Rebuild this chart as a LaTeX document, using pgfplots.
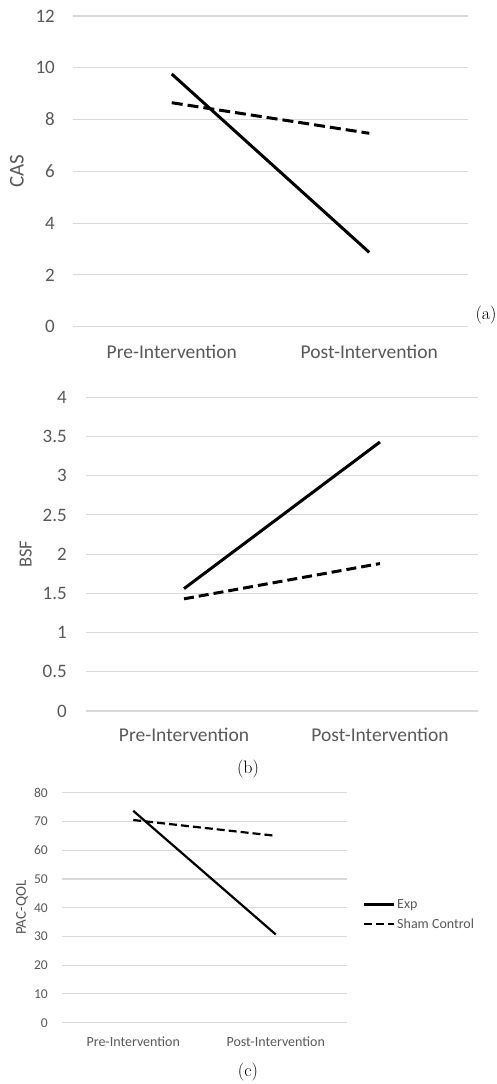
\documentclass[border=0pt]{standalone}
\usepackage{fontspec}
\setsansfont{Carlito}
\usepackage{pgfplots}
\pgfplotsset{compat=1.18}
\definecolor{tickgray}{HTML}{595959}
\definecolor{gridgray}{HTML}{D9D9D9}
\pgfplotsset{
  panel/.style={
    scale only axis,
    anchor=south west,
    xmin=-0.5, xmax=1.5,
    xtick={0,1},
    xticklabels={Pre-Intervention,Post-Intervention},
    axis line style={draw=none},
    major tick length=0pt,
    tick style={draw=none},
    ymajorgrids,
    grid style={gridgray, line width=1.1pt},
    tick label style={color=tickgray, inner sep=0pt},
    label style={color=tickgray},
    /pgf/number format/assume math mode=true,
    clip=false,
  },
}
\begin{document}
\begin{tikzpicture}[x=1pt,y=1pt]
\useasboundingbox (0,0) rectangle (496,1084);
% (a) CAS
\begin{axis}[panel,
  at={(73pt,757.3pt)},
  width=395pt, height=310.7pt,
  ymin=0, ymax=12, ytick={0,2,4,6,8,10,12},
  yticklabel style={anchor=east, xshift=-18pt, font=\sffamily\fontsize{19}{21}\selectfont},
  xticklabel style={anchor=center, yshift=-25pt, font=\sffamily\fontsize{19.5}{21}\selectfont},
  every axis y label/.style={at={(axis description cs:-0.142,0.5)}, rotate=90, anchor=center, color=tickgray, font=\sffamily\fontsize{21}{23}\selectfont},
  ylabel={CAS},
]
\addplot[black, line width=3pt] coordinates {(0,9.76) (1,2.87)};
\addplot[black, line width=3pt, dash pattern=on 11pt off 5pt] coordinates {(0,8.65) (1,7.47)};
\end{axis}
% (b) BSF
\begin{axis}[panel,
  at={(86pt,373pt)},
  width=392pt, height=313.7pt,
  ymin=0, ymax=4, ytick={0,0.5,1,1.5,2,2.5,3,3.5,4},
  yticklabel style={anchor=east, xshift=-19pt, font=\sffamily\fontsize{19}{21}\selectfont},
  xticklabel style={anchor=center, yshift=-24pt, font=\sffamily\fontsize{19.5}{21}\selectfont},
  every axis y label/.style={at={(axis description cs:-0.154,0.5)}, rotate=90, anchor=center, color=tickgray, font=\sffamily\fontsize{18.5}{20}\selectfont},
  ylabel={BSF},
]
\addplot[black, line width=3pt] coordinates {(0,1.56) (1,3.43)};
\addplot[black, line width=3pt, dash pattern=on 10pt off 5pt] coordinates {(0,1.43) (1,1.88)};
\end{axis}
% (c) PAC-QOL
\begin{axis}[panel,
  at={(62pt,61.3pt)},
  width=285pt, height=230pt,
  ymin=0, ymax=80, ytick={0,10,20,30,40,50,60,70,80},
  yticklabel style={anchor=east, xshift=-14pt, font=\sffamily\fontsize{13.5}{15}\selectfont},
  xticklabel style={anchor=center, yshift=-19pt, font=\sffamily\fontsize{14}{16}\selectfont},
  every axis y label/.style={at={(axis description cs:-0.14,0.5)}, rotate=90, anchor=center, color=tickgray, font=\sffamily\fontsize{15}{17}\selectfont},
  ylabel={PAC-QOL},
  legend style={at={(1.045,0.47)}, anchor=west, draw=none, fill=none,
    font=\sffamily\fontsize{14}{16}\selectfont, text=tickgray, row sep=5pt,
    nodes={inner sep=2pt}},
  legend cell align=left,
  legend image code/.code={\draw[#1] (0pt,0pt) -- (30pt,0pt);},
]
\addplot[black, line width=2.2pt] coordinates {(0,73.7) (1,30.7)};
\addlegendentry{Exp}
\addplot[black, line width=2.2pt, dash pattern=on 8pt off 4pt] coordinates {(0,70.5) (1,65.0)};
\addlegendentry{Sham Control}
\end{axis}
\node[font=\fontsize{18}{20}\selectfont] at (486,769) {(a)};
\node[font=\fontsize{18}{20}\selectfont] at (248,315) {(b)};
\node[font=\fontsize{18}{20}\selectfont] at (248,12) {(c)};
\end{tikzpicture}
\end{document}
